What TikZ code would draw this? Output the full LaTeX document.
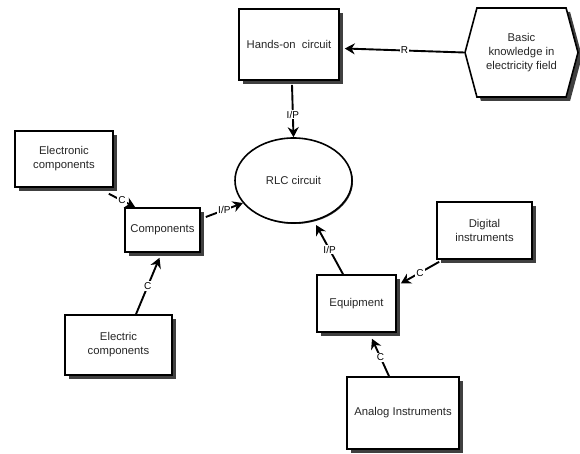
\documentclass[tikz,border=0pt]{standalone}
\usepackage{fontspec}
\setmainfont{Liberation Sans}
\usepackage{tikz}
\usetikzlibrary{arrows.meta, shapes.geometric, shapes.symbols, shadows}

\begin{document}
\begin{tikzpicture}[x=1pt, y=-1pt,
    font=\fontsize{11.3}{14}\selectfont, text=black!85,
    box/.style={draw, fill=white, line width=1.6pt, align=center,
                inner sep=2pt,
                drop shadow={shadow xshift=4pt, shadow yshift=-4pt,
                             opacity=1, fill=black!75}},
    hexa/.style={box, signal, signal to=west and east,
                 signal pointer angle=150},
    goal/.style={draw, fill=white, ellipse, line width=1.6pt,
                 drop shadow={shadow xshift=1pt, shadow yshift=-1pt,
                              opacity=1, fill=black!75}},
    lnk/.style={-{Stealth[length=10pt, width=11pt]}, line width=1.9pt},
    lbl/.style={fill=white, inner sep=1pt, text=black,
                font=\fontsize{10}{11}\selectfont}]

    \useasboundingbox (0,0) rectangle (580,454);

    % boxes
    \node[box, minimum width=100pt, minimum height=71pt] (hands) at (289,44.5) {Hands-on\ \ circuit};
    \node[hexa, minimum width=113pt, minimum height=89pt] (basic) at (521.5,52.5) {Basic\\knowledge in\\electricity field};
    \node[goal, minimum width=117pt, minimum height=85pt] (rlc) at (293.5,180.5) {RLC circuit};
    \node[box, minimum width=98pt, minimum height=56pt] (elec) at (64,159) {Electronic\\components};
    \node[box, minimum width=75pt, minimum height=44pt] (comp) at (162.5,230) {Components};
    \node[box, minimum width=107pt, minimum height=60pt] (eltr) at (118.5,345) {Electric\\components};
    \node[box, minimum width=95pt, minimum height=57pt] (digi) at (484.5,230.5) {Digital\\instruments};
    \node[box, minimum width=79pt, minimum height=57pt] (equip) at (356.5,303.5) {Equipment};
    \node[box, minimum width=112pt, minimum height=72pt] (analog) at (403,413) {Analog Instruments};

    % links
    \draw[lnk] (basic.west) -- node[lbl]{R} ([xshift=5pt, yshift=-4pt]hands.east);
    \draw[lnk] ([xshift=3pt, yshift=-4pt]hands.south) -- node[lbl, pos=0.57]{I/P} (rlc.north);
    \draw[lnk] ([xshift=-5pt, yshift=-6pt]elec.south east) -- node[lbl]{C} ([xshift=11pt]comp.north west);
    \draw[lnk] ([xshift=5pt, yshift=13pt]comp.east) -- node[lbl]{I/P} (rlc.204);
    \draw[lnk] ([xshift=17.5pt]eltr.north) -- node[lbl]{C} ([xshift=-3pt, yshift=-5pt]comp.south);
    \draw[lnk] ([xshift=3pt, yshift=-2pt]digi.south west) -- node[lbl]{C} ([xshift=4pt, yshift=20pt]equip.east);
    \draw[lnk] ([xshift=-13.5pt]equip.north) -- node[lbl]{I/P} ([shift={(2pt,-4pt)}]rlc.297);
    \draw[lnk] ([xshift=-14pt]analog.north) -- node[lbl]{C} ([xshift=15.5pt, yshift=-6pt]equip.south);
\end{tikzpicture}
\end{document}
